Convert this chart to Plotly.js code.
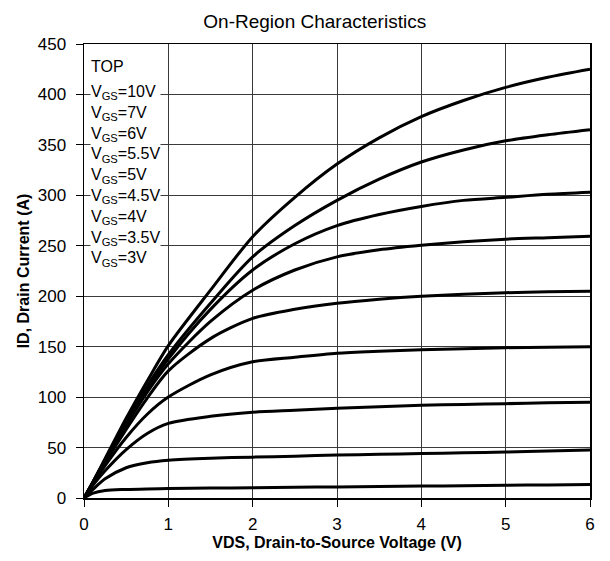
<!DOCTYPE html>
<html>
<head>
<meta charset="utf-8">
<script src="https://cdn.plot.ly/plotly-3.0.1.min.js"></script>
<style>html,body{margin:0;padding:0;background:#fff;}#chart{width:610px;height:561px;}</style>
</head>
<body>
<div id="chart"></div>
<script>
// VDS (V)
var vds = [0, 0.1, 0.25, 0.5, 0.75, 1, 1.5, 2, 2.5, 3, 3.5, 4, 4.5, 5, 5.5, 6];
// ID (A) per gate voltage
var id10  = [0, 15, 39, 79, 116, 151, 206, 259, 298, 331, 357, 378, 394, 407, 417, 425];
var id7   = [0, 15, 38, 76, 111, 142, 193, 239, 270, 295, 316, 333, 345, 354, 360, 365];
var id6   = [0, 15, 37, 74, 108, 138, 187, 226, 252, 270, 281, 289, 295, 298, 301, 303];
var id5_5 = [0, 14, 36, 72, 105, 133, 175, 206, 226, 239, 246, 250.5, 254, 256.5, 258, 259.5];
var id5   = [0, 14, 35, 68, 99, 126, 158, 178, 187, 193, 197, 200, 202, 203.5, 204.5, 205];
var id4_5 = [0, 13, 32, 60, 83, 100, 122, 135, 139.5, 143.5, 145.5, 147, 148, 149, 149.5, 150];
var id4   = [0, 12, 27, 48, 64, 74, 81, 85, 87, 89, 90.5, 92, 92.8, 93.5, 94.3, 95];
var id3_5 = [0, 8, 19, 30, 35, 37.5, 39.5, 40.5, 41.5, 42.5, 43.3, 44, 44.8, 45.5, 46.5, 47.5];
var id3   = [0, 4.5, 7.5, 8.5, 9, 9.3, 9.8, 10.2, 10.6, 11, 11.4, 11.8, 12.2, 12.6, 13, 13.5];

var seriesNames = ["VGS=10V","VGS=7V","VGS=6V","VGS=5.5V","VGS=5V","VGS=4.5V","VGS=4V","VGS=3.5V","VGS=3V"];
var seriesVals = [id10, id7, id6, id5_5, id5, id4_5, id4, id3_5, id3];
var legendLabels = ["10V","7V","6V","5.5V","5V","4.5V","4V","3.5V","3V"];
var xTicks = [0,1,2,3,4,5,6];
var yTicks = [0,50,100,150,200,250,300,350,400,450];

var traces = seriesVals.map(function(v, i){
  return {x: vds, y: v, name: seriesNames[i], type: 'scatter', mode: 'lines',
    line: {color: '#000', width: 3, shape: 'spline', smoothing: 0.8}, hoverinfo: 'skip'};
});

var legendText = legendLabels.map(function(l){ return 'V<sub>GS</sub>=' + l; }).join('<br>');

var FONT = 'Liberation Sans, Arial, sans-serif';
var layout = {
  width: 610, height: 561,
  margin: {l: 84, r: 20, t: 44, b: 63},
  paper_bgcolor: '#fff', plot_bgcolor: '#fff',
  showlegend: false,
  font: {family: FONT, color: '#000', size: 16},
  title: {text: 'On-Region Characteristics', x: 0.516, xanchor: 'center', y: 0.962, yanchor: 'middle',
    font: {family: FONT, size: 19, color: '#000'}},
  xaxis: {range: [0, 6], tickvals: xTicks, ticktext: xTicks.map(String), showgrid: true, gridcolor: '#3a3a3a', gridwidth: 1,
    zeroline: false, showline: true, linecolor: '#000', linewidth: 1.5, mirror: true,
    ticks: 'outside', ticklen: 7, tickcolor: '#000', tickwidth: 1, ticklabelstandoff: 3,
    tickfont: {family: FONT, size: 17},
    title: {text: 'VDS, Drain-to-Source Voltage (V)', standoff: 4, font: {family: FONT, size: 16, weight: 'bold'}}},
  yaxis: {range: [0, 450], tickvals: yTicks, ticktext: yTicks.map(String), showgrid: true, gridcolor: '#3a3a3a', gridwidth: 1,
    zeroline: false, showline: true, linecolor: '#000', linewidth: 1.5, mirror: true,
    ticks: 'outside', ticklen: 7, tickcolor: '#000', tickwidth: 1, ticklabelstandoff: 6,
    tickfont: {family: FONT, size: 17},
    title: {text: 'ID, Drain Current (A)', standoff: 4, font: {family: FONT, size: 16, weight: 'bold'}}},
  annotations: [
    {xref: 'paper', yref: 'paper', x: 0, y: 1, xanchor: 'left', yanchor: 'top', xshift: 6, yshift: -13,
     text: 'TOP', showarrow: false, align: 'left', bgcolor: '#fff', borderpad: 0,
     font: {family: FONT, size: 16, color: '#000'}},
    {xref: 'paper', yref: 'paper', x: 0, y: 1, xanchor: 'left', yanchor: 'top', xshift: 6, yshift: -38,
     text: legendText, showarrow: false, align: 'left', bgcolor: '#fff', borderpad: 0,
     font: {family: FONT, size: 16, color: '#000'}}
  ]
};

Plotly.newPlot('chart', traces, layout, {staticPlot: true, displayModeBar: false});
</script>
</body>
</html>
